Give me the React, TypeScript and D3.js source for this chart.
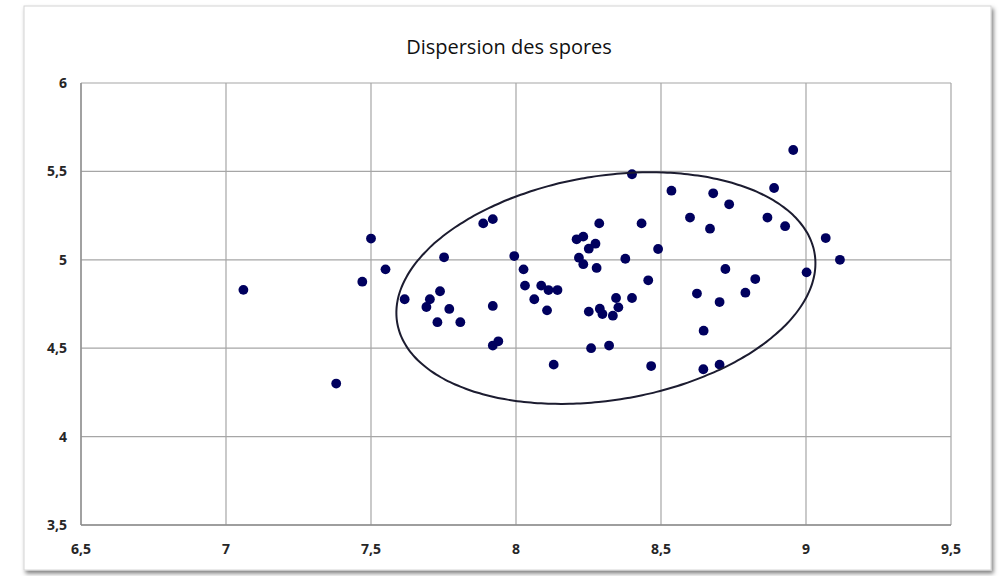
import React, { useEffect, useRef } from "react";
import * as d3 from "d3";

const xValues = [
  7.06, 7.38, 7.47, 7.5, 7.55, 7.616, 7.691, 7.703, 7.729, 7.738,
  7.752, 7.77, 7.808, 7.887, 7.92, 7.92, 7.92, 7.939, 7.994, 8.026,
  8.031, 8.063, 8.087, 8.107, 8.112, 8.13, 8.143, 8.209, 8.217, 8.232,
  8.232, 8.251, 8.251, 8.259, 8.274, 8.278, 8.287, 8.289, 8.298, 8.321,
  8.334, 8.345, 8.353, 8.377, 8.4, 8.4, 8.433, 8.456, 8.466, 8.49,
  8.536, 8.6, 8.624, 8.646, 8.647, 8.669, 8.68, 8.702, 8.702, 8.722,
  8.735, 8.791, 8.825, 8.867, 8.89, 8.928, 8.956, 9.002, 9.068, 9.117,
];
const yValues = [
  4.83, 4.3, 4.876, 5.12, 4.946, 4.777, 4.733, 4.777, 4.647, 4.822,
  5.014, 4.722, 4.647, 5.206, 5.23, 4.739, 4.515, 4.539, 5.021, 4.946,
  4.854, 4.777, 4.854, 4.714, 4.829, 4.407, 4.829, 5.116, 5.012, 5.131,
  4.975, 5.063, 4.707, 4.5, 5.091, 4.954, 5.206, 4.723, 4.693, 4.515,
  4.684, 4.784, 4.731, 5.006, 5.484, 4.784, 5.206, 4.884, 4.399, 5.061,
  5.391, 5.239, 4.809, 4.381, 4.599, 5.176, 5.376, 4.761, 4.407, 4.948,
  5.314, 4.814, 4.891, 5.239, 5.406, 5.19, 5.621, 4.929, 5.123, 5.0,
];
const xTicks = [6.5, 7, 7.5, 8, 8.5, 9, 9.5];
const yTicks = [3.5, 4, 4.5, 5, 5.5, 6];

// hand-drawn ellipse around the main cluster, in data units
const ellipseCenter = [8.31, 4.84];
const ellipseShape = [0.7225, 0.14, 0.64]; // cholesky factor l11, l21, l22

const fmt = (v: number) => String(v).replace(".", ",");
const labelFont = "'Open Sans', 'Liberation Sans', sans-serif";

export default function App() {
  const svgRef = useRef<SVGSVGElement>(null);

  useEffect(() => {
    if (!svgRef.current) return;
    const width = 1005;
    const height = 576;
    const svg = d3.select(svgRef.current);
    svg.selectAll("*").remove();
    svg.attr("width", width).attr("height", height);

    const defs = svg.append("defs");
    const filter = defs.append("filter").attr("id", "shadow")
      .attr("x", "-5%").attr("y", "-5%").attr("width", "110%").attr("height", "110%");
    filter.append("feDropShadow")
      .attr("dx", 2).attr("dy", 3).attr("stdDeviation", 2)
      .attr("flood-color", "#000").attr("flood-opacity", 0.5);

    // chart frame
    svg.append("rect")
      .attr("x", 24).attr("y", 6)
      .attr("width", 967).attr("height", 564)
      .attr("fill", "#fff")
      .attr("stroke", "#d4d4d4")
      .attr("filter", "url(#shadow)");

    const x = d3.scaleLinear().domain([6.5, 9.5]).range([81, 951]);
    const y = d3.scaleLinear().domain([3.5, 6]).range([525, 83]);

    // grid
    svg.append("g").selectAll("line")
      .data(xTicks)
      .join("line")
      .attr("x1", d => x(d)).attr("x2", d => x(d))
      .attr("y1", y(6)).attr("y2", y(3.5))
      .attr("stroke", "#a6a6a6").attr("stroke-width", 1.2);
    svg.append("g").selectAll("line")
      .data(yTicks)
      .join("line")
      .attr("x1", x(6.5)).attr("x2", x(9.5))
      .attr("y1", d => y(d)).attr("y2", d => y(d))
      .attr("stroke", "#a6a6a6").attr("stroke-width", 1.2);

    // axis lines a little darker
    svg.append("line")
      .attr("x1", x(6.5)).attr("x2", x(6.5)).attr("y1", y(6)).attr("y2", y(3.5))
      .attr("stroke", "#8c8c8c").attr("stroke-width", 1.3);
    svg.append("line")
      .attr("x1", x(6.5)).attr("x2", x(9.5)).attr("y1", y(3.5)).attr("y2", y(3.5))
      .attr("stroke", "#8c8c8c").attr("stroke-width", 1.3);

    // tick labels
    svg.append("g").selectAll("text")
      .data(xTicks)
      .join("text")
      .attr("x", d => x(d))
      .attr("y", 554)
      .attr("text-anchor", "middle")
      .style("font-family", labelFont)
      .style("font-size", "14px")
      .style("font-weight", "bold")
      .style("fill", "#262626")
      .text(d => fmt(d));
    svg.append("g").selectAll("text")
      .data(yTicks)
      .join("text")
      .attr("x", 67)
      .attr("y", d => y(d) + 5)
      .attr("text-anchor", "end")
      .style("font-family", labelFont)
      .style("font-size", "14px")
      .style("font-weight", "bold")
      .style("fill", "#262626")
      .text(d => fmt(d));

    // title
    svg.append("text")
      .attr("x", 509)
      .attr("y", 54)
      .attr("text-anchor", "middle")
      .style("font-family", labelFont)
      .style("font-size", "20px")
      .style("fill", "#111")
      .text("Dispersion des spores");

    // points
    const points = xValues.map((v, i) => [v, yValues[i]]);
    svg.append("g").selectAll("circle")
      .data(points)
      .join("circle")
      .attr("cx", d => x(d[0]))
      .attr("cy", d => y(d[1]))
      .attr("r", 4.9)
      .attr("fill", "#00005e");

    // ellipse
    const angles = d3.range(0, 2 * Math.PI, Math.PI / 90);
    const [l11, l21, l22] = ellipseShape;
    const ring = angles.map(t => [
      ellipseCenter[0] + l11 * Math.cos(t),
      ellipseCenter[1] + l21 * Math.cos(t) + l22 * Math.sin(t),
    ]);
    const line = d3.line<number[]>()
      .x(d => x(d[0]))
      .y(d => y(d[1]))
      .curve(d3.curveCardinalClosed);
    svg.append("path")
      .datum(ring)
      .attr("d", line)
      .attr("fill", "none")
      .attr("stroke", "#1c1c30")
      .attr("stroke-width", 2);
  }, []);

  return (
    <svg
      ref={svgRef}
      style={{ position: "absolute", left: 0, top: 0, display: "block", background: "#fff" }}
    />
  );
}
